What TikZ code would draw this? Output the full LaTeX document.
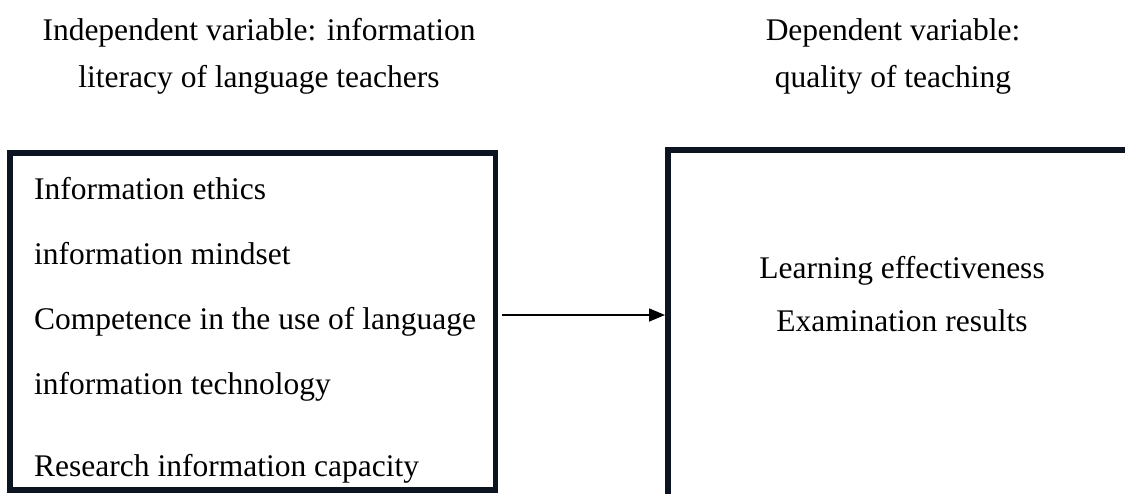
\documentclass[tikz,border=0pt]{standalone}
\usepackage{fontspec}
\setmainfont{Liberation Serif}
\usetikzlibrary{arrows.meta}
\definecolor{boxline}{HTML}{0B1420}

\begin{document}
\begin{tikzpicture}[
  x=1pt, y=-1pt,
  font=\fontsize{31.5}{37}\selectfont,
  frame/.style={draw=boxline, line width=5.5pt, inner sep=0pt},
  item/.style={inner sep=0pt},
  connection/.style={-{Triangle[length=16pt, width=13pt]}, line width=1.5pt},
]
  \clip (0,0) rectangle (1125,493);

  % Two headings, each set on two lines.
  \node[item, anchor=base] (indep1) at (259,40) {Independent variable: information};
  \node[item, anchor=base] (indep2) at (259,87) {literacy of language teachers};
  \node[item, anchor=base] (dep1) at (893,40) {Dependent variable:};
  \node[item, anchor=base] (dep2) at (893,87) {quality of teaching};

  % The right frame runs past the edge of the page.
  \node[frame, minimum width=485.5pt, minimum height=337pt] (leftbox) at (252.75,321.5) {};
  \node[frame, anchor=north west, minimum width=500pt, minimum height=380pt] (rightbox) at (665,147) {};

  \foreach \n/\y/\t in {1/199/Information ethics, 2/264/information mindset,
      3/329/Competence in the use of language, 4/394/information technology,
      5/476/Research information capacity} {
    \node[item, anchor=base west] (ind\n) at (34,\y) {\t};
  }

  \node[item, anchor=base] (effect) at (902,278) {Learning effectiveness};
  \node[item, anchor=base] (exam) at (902,331) {Examination results};

  \coordinate (arrowstart) at ([xshift=4pt]leftbox.east |- 0,315);
  \draw[connection] (arrowstart) -- (rightbox.west |- arrowstart);
\end{tikzpicture}
\end{document}
